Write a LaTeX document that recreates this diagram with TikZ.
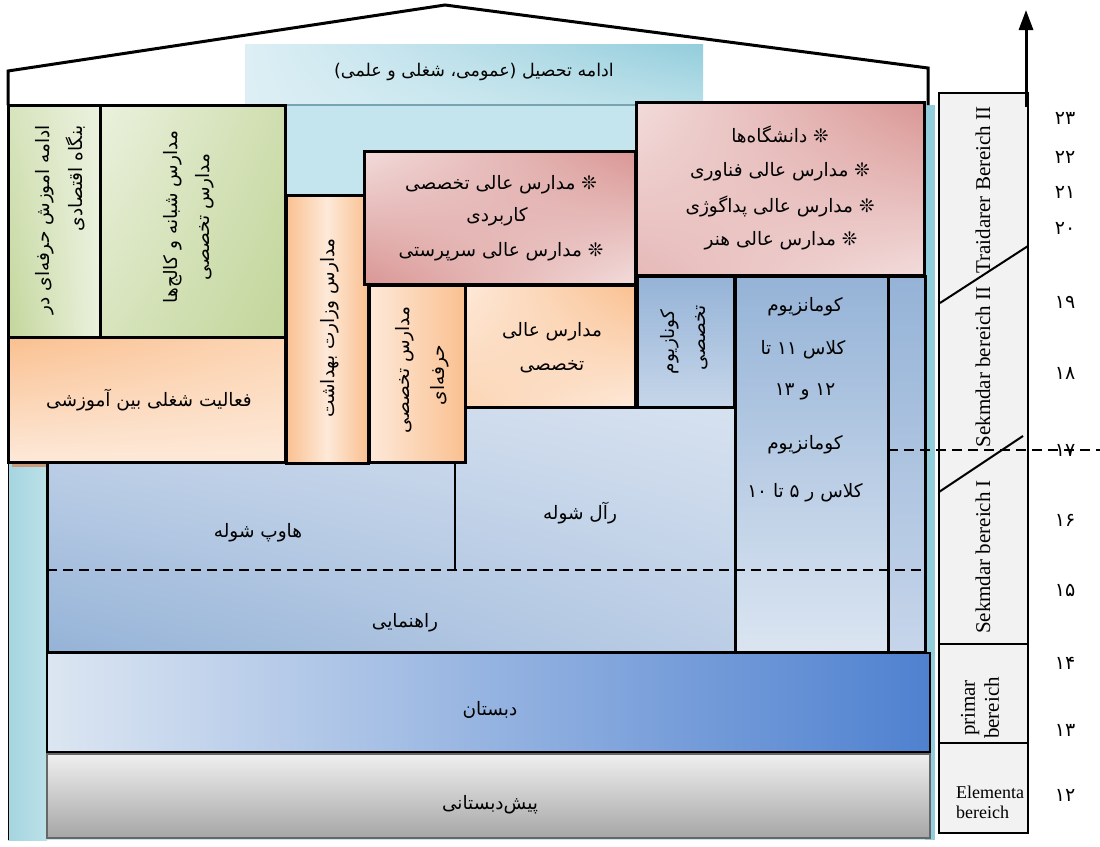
\documentclass[tikz,border=0pt]{standalone}
\usepackage{fontspec}
\setmainfont{Liberation Serif}
\newfontfamily\farsi[Script=Arabic]{DejaVu Sans}
\TeXXeTstate=1
\newcommand{\fa}[1]{{\farsi\beginR #1\endR}}
\usetikzlibrary{arrows.meta,shadings}
\definecolor{tabA}{HTML}{DDEFF5}
\definecolor{tabB}{HTML}{93CDDC}
\definecolor{tabC}{HTML}{B8DFE8}
\definecolor{bodyT}{HTML}{C4E5ED}
\definecolor{stripL}{HTML}{A5D5E0}
\definecolor{stripLL}{HTML}{BBE0E8}
\definecolor{stripR}{HTML}{92CDDC}
\definecolor{grL}{HTML}{EBF1DE}
\definecolor{grM}{HTML}{D7E4BD}
\definecolor{grD}{HTML}{C3D69B}
\definecolor{orD}{HTML}{FAC090}
\definecolor{orM}{HTML}{FCD5B4}
\definecolor{orL}{HTML}{FDE9D9}
\definecolor{rdD}{HTML}{D99694}
\definecolor{rdM}{HTML}{E6B9B8}
\definecolor{rdL}{HTML}{F2DCDB}
\definecolor{blD}{HTML}{95B3D7}
\definecolor{blM}{HTML}{C6D5EA}
\definecolor{blL}{HTML}{DBE5F1}
\definecolor{dsL}{HTML}{DCE6F2}
\definecolor{dsD}{HTML}{4F81D0}
\definecolor{gyL}{HTML}{EFEFEF}
\definecolor{gyD}{HTML}{A6A6A6}
\definecolor{colG}{HTML}{F2F2F2}
\definecolor{shad}{HTML}{C89A78}
\begin{document}
\begin{tikzpicture}[x=1pt,y=-1pt,
  bx/.style={draw=black,line width=3pt},
  fatx/.style={font=\farsi\fontsize{18.5}{22}\selectfont, inner sep=0pt},
  lat/.style={font=\fontsize{21}{24}\selectfont, inner sep=0pt},
  num/.style={font=\farsi\fontsize{19}{22}\selectfont, inner sep=0pt},
  dash line/.style={line width=2pt, dash pattern=on 10pt off 6pt}]
\useasboundingbox (0,0) rectangle (1100,846);
\fill[white] (0,0) rectangle (1100,846);
% background body and tab
\fill[bodyT] (8,105) rectangle (935,840);
\fill[stripR] (925,105) rectangle (935,840);
\shade[left color=stripL, right color=stripLL] (8,462) rectangle (47,840);
\draw[line width=0.8pt] (8,462) -- (8,840);
\shade[upper left=tabA, upper right=tabB, lower left=tabA, lower right=tabC] (245,44) rectangle (703,105);
\draw[line width=2pt, tabB!80!black] (245,105) -- (703,105);
% roof
\draw[line width=3pt, line join=miter] (8,105) -- (8,71) -- (445,5) -- (928,68) -- (928,105);
% shadows of orange boxes
\fill[shad] (12,337) rectangle (289,467);
\fill[shad] (290,200) rectangle (372,468);
\fill[shad] (373,290) rectangle (469,467);
\fill[shad] (469,290) rectangle (640,412);
% big blue region
\shade[bx, upper left=blM, upper right=blL, lower left=blD, lower right=blM] (47,407) rectangle (925,652);
\draw[line width=2.2pt] (455,462) -- (455,570);
% gymnasium boxes
\shade[bx, top color=blD, bottom color=blL] (735,276) rectangle (888,652);
\shade[bx, top color=blD, bottom color=blM] (888,276) rectangle (925,652);
\shade[bx, top color=blD, bottom color=blL!70!blD] (637,276) rectangle (734,407);
\draw[dash line] (47,570) -- (925,570);
% green boxes
\shade[bx, upper left=grM, upper right=grL, lower left=grD, lower right=grL] (8,105) rectangle (100,337);
\shade[bx, upper left=grL, upper right=grD!70!grL, lower left=grM, lower right=grD] (100,105) rectangle (285,337);
% orange boxes
\shade[bx, upper left=orD, upper right=orM, lower left=orL, lower right=orL] (8,337) rectangle (285,462);
\shade[bx, left color=orD, right color=orD, middle color=orL] (286,195) rectangle (368,463);
\shade[bx, left color=orL, right color=orD] (369,285) rectangle (465,462);
\shade[bx, upper left=orL, upper right=orD, lower left=orM, lower right=orL] (465,285) rectangle (635,407);
% red boxes
\shade[bx, upper left=rdL, upper right=rdD, lower left=rdD, lower right=rdL] (364,151) rectangle (635,284);
\shade[bx, upper left=rdL, upper right=rdD, lower left=rdM, lower right=rdL] (636,102) rectangle (924,275);
% primary and pre-school
\shade[draw=black, line width=2.4pt, left color=dsL, right color=dsD] (47,653) rectangle (930,752);
\shade[draw=black!60, line width=2.4pt, top color=gyL, bottom color=gyD] (47,754) rectangle (930,838);
% right column
\fill[colG] (939,93) rectangle (1028,833);
\draw[line width=2pt] (939,93) rectangle (1028,833);
\draw[line width=2pt] (939,644) -- (1028,644);
\draw[line width=2pt] (939,743) -- (1028,743);
\draw[line width=2pt] (940,303) -- (1028,246);
\draw[line width=2pt] (939,492) -- (1023,436);
\draw[dash line] (888,450) -- (1100,450);
% arrow
\coordinate (arB) at (1026,107);
\coordinate (arT) at (1026,10);
\draw[line width=3pt, -{Triangle[length=20pt,width=14pt]}] (arB) -- (arT);
% texts
\node[fatx, font=\farsi\fontsize{17.5}{22}\selectfont] (tab) at (474,72) {\fa{ادامه تحصیل (عمومی، شغلی و علمی)}};
\node[fatx, rotate=90, anchor=east] (b1a) at (45,125) {\fa{ادامه اموزش حرفه‌ای در}};
\node[fatx, rotate=90, anchor=east] (b1b) at (76,125) {\fa{بنگاه اقتصادی}};
\node[fatx, rotate=90] (b2a) at (173,217) {\fa{مدارس شبانه و کالج‌ها}};
\node[fatx, rotate=90] (b2b) at (205,217) {\fa{مدارس تخصصی}};
\node[fatx] (fa1) at (149,400) {\fa{فعالیت شغلی بین آموزشی}};
\node[fatx, rotate=90] (vz) at (330,328) {\fa{مدارس وزارت بهداشت}};
\node[fatx, rotate=90] (th1) at (405,370) {\fa{مدارس تخصصی}};
\node[fatx, rotate=90] (th2) at (440,375) {\fa{حرفه‌ای}};
\node[fatx] (at1) at (552,332) {\fa{مدارس عالی}};
\node[fatx] (at2) at (552,367) {\fa{تخصصی}};
\node[fatx] (r1a) at (501,185) {\fa{❊ مدارس عالی تخصصی}};
\node[fatx] (r1b) at (497,217) {\fa{کاربردی}};
\node[fatx] (r1c) at (501,252) {\fa{❊ مدارس عالی سرپرستی}};
\node[fatx] (r2a) at (780,135) {\fa{❊ دانشگاه‌ها}};
\node[fatx] (r2b) at (780,172) {\fa{❊ مدارس عالی فناوری}};
\node[fatx] (r2c) at (780,206) {\fa{❊ مدارس عالی پداگوژی}};
\node[fatx] (r2d) at (781,241) {\fa{❊ مدارس عالی هنر}};
\node[fatx, rotate=90] (kz1) at (670,342) {\fa{کونازیوم}};
\node[fatx, rotate=90] (kz2) at (702,338) {\fa{تخصصی}};
\node[fatx] (g1) at (805,307) {\fa{کومانزیوم}};
\node[fatx] (g2) at (803,350) {\fa{کلاس ۱۱ تا}};
\node[fatx] (g3) at (805,392) {\fa{۱۲ و ۱۳}};
\node[fatx] (g4) at (805,445) {\fa{کومانزیوم}};
\node[fatx] (g5) at (805,493) {\fa{کلاس ر ۵ تا ۱۰}};
\node[fatx] (hs) at (258,533) {\fa{هاوپ شوله}};
\node[fatx] (rs) at (580,513) {\fa{رآل شوله}};
\node[fatx] (rh) at (405,623) {\fa{راهنمایی}};
\node[fatx] (ds) at (490,710) {\fa{دبستان}};
\node[fatx] (pd) at (490,805) {\fa{پیش‌دبستانی}};
\node[lat, rotate=90] (c1) at (983,190) {Traidarer Bereich II};
\node[lat, rotate=90] (c2) at (983,367) {Sekmdar bereich II};
\node[lat, rotate=90] (c3) at (983,557) {Sekmdar bereich I};
\node[lat, rotate=90, align=center] (c4) at (980,708) {primar\\bereich};
\node[font=\fontsize{18}{20}\selectfont, inner sep=0pt, align=left, anchor=west] (c5) at (956,802) {Elementa\\bereich};
\node[num] (n23) at (1065,118) {\fa{۲۳}};
\node[num] (n22) at (1065,157) {\fa{۲۲}};
\node[num] (n21) at (1065,192) {\fa{۲۱}};
\node[num] (n20) at (1065,228) {\fa{۲۰}};
\node[num] (n19) at (1065,302) {\fa{۱۹}};
\node[num] (n18) at (1065,373) {\fa{۱۸}};
\node[num] (n17) at (1065,450) {\fa{۱۷}};
\node[num] (n16) at (1065,520) {\fa{۱۶}};
\node[num] (n15) at (1065,590) {\fa{۱۵}};
\node[num] (n14) at (1065,663) {\fa{۱۴}};
\node[num] (n13) at (1065,730) {\fa{۱۳}};
\node[num] (n12) at (1065,795) {\fa{۱۲}};
\end{tikzpicture}
\end{document}
